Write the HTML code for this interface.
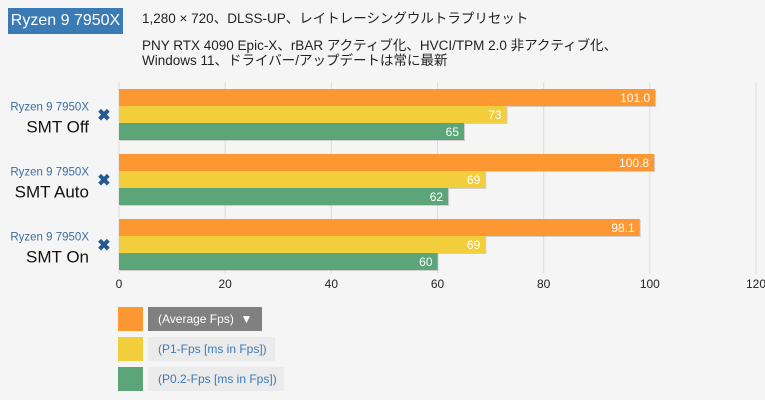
<!DOCTYPE html>
<html><head><meta charset="utf-8"><style>
body{margin:0;width:765px;height:400px;background:#f5f5f5;font-family:"Liberation Sans","Noto Sans CJK JP",sans-serif;overflow:hidden;position:relative}
.abs{position:absolute}
</style></head><body>
<div class="abs" style="left:8px;top:8px;width:115px;height:26px;background:#3b7bb5;color:#fff;font-size:16px;line-height:26px;text-align:center">Ryzen 9 7950X</div>
<div class="abs" style="left:142px;top:7px;font-size:13.5px;color:#222">1,280 × 720、DLSS-UP、レイトレーシングウルトラプリセット</div>
<div class="abs" style="left:142px;top:38px;font-size:13.5px;color:#222;line-height:15px">PNY RTX 4090 Epic-X、rBAR アクティブ化、HVCI/TPM 2.0 非アクティブ化、<br>Windows 11、ドライバー/アップデートは常に最新</div>
<svg class="abs" style="left:0;top:0" width="765" height="400">
<g id="grid"></g><g id="bars"></g><g id="labels"></g>
</svg>
<div class="abs" style="left:118px;top:307px">
 <div style="position:absolute;left:0;top:0;width:200px;height:25px">
  <div style="position:absolute;left:0;top:0;width:25px;height:24px;background:#fd9732"></div>
  <div style="position:absolute;left:30px;top:0;width:114px;height:24px;background:#808080;color:#fff;font-size:12px;line-height:24px;padding-left:10px;box-sizing:border-box">(Average Fps) &nbsp;▼</div>
 </div>
 <div style="position:absolute;left:0;top:30px;width:200px;height:25px">
  <div style="position:absolute;left:0;top:0;width:25px;height:24px;background:#f2cd3c"></div>
  <div style="position:absolute;left:30px;top:0;width:127px;height:24px;background:#ebebeb;color:#3b7bb5;font-size:12px;line-height:24px;padding-left:10px;box-sizing:border-box">(P1-Fps [ms in Fps])</div>
 </div>
 <div style="position:absolute;left:0;top:60px;width:200px;height:25px">
  <div style="position:absolute;left:0;top:0;width:25px;height:24px;background:#5ba578"></div>
  <div style="position:absolute;left:30px;top:0;width:136px;height:24px;background:#ebebeb;color:#3b7bb5;font-size:12px;line-height:24px;padding-left:10px;box-sizing:border-box">(P0.2-Fps [ms in Fps])</div>
 </div>
</div>
<script>
const categories=["SMT Off","SMT Auto","SMT On"];
const avgFps=[101.0,100.8,98.1];
const p1Fps=[73,69,69];
const p02Fps=[65,62,60];
const avgLabels=["101.0","100.8","98.1"];
const ticks=[0,20,40,60,80,100,120];
const NS="http://www.w3.org/2000/svg";
const x0=119,x1=756,xMax=120,top0=82,bottom=270,groupH=65,g0=89,barH=17;
const xs=v=>x0+(x1-x0)*v/xMax;
function mk(t,a,p){const e=document.createElementNS(NS,t);for(const k in a)e.setAttribute(k,a[k]);p.appendChild(e);return e;}
const grid=document.getElementById('grid'),bars=document.getElementById('bars'),labs=document.getElementById('labels');
ticks.forEach(t=>{
 const l=mk('line',{x1:xs(t),x2:xs(t),y1:top0,y2:bottom+4,stroke:'#dcdcdc','stroke-width':1},grid);
 
 
 const tx=mk('text',{x:xs(t),y:288,'text-anchor':'middle','font-size':12,fill:'#222'},labs);
 tx.textContent=t;
 
 
});
const series=[[avgFps,'#fd9732',i=>avgLabels[i]],[p1Fps,'#f2cd3c',i=>String(p1Fps[i])],[p02Fps,'#5ba578',i=>String(p02Fps[i])]];
categories.forEach((c,i)=>{
 const gy=g0+i*groupH;
 series.forEach((s,j)=>{
  const y=gy+j*barH,w=xs(s[0][i])-x0;
  mk('rect',{x:x0+1,y:y+1,width:w,height:barH,fill:'rgba(0,0,0,0.15)'},bars);
  const r=mk('rect',{x:x0,y:y,width:w,height:barH,fill:s[1]},bars);
  
  
  const t=mk('text',{x:x0+w-5,y:y+13,'text-anchor':'end','font-size':12,fill:'#fff'},labs);
  t.textContent=s[2](i);
  
  
 });
 const cy=gy+barH*1.5;
 const a=mk('text',{x:89,y:cy-4,'text-anchor':'end','font-size':11.5,fill:'#3b6ea5'},labs);
 a.textContent='Ryzen 9 7950X';
 
 
 const b=mk('text',{x:89,y:cy+18,'text-anchor':'end','font-size':17,fill:'#111'},labs);
 b.textContent=c;
 
 
 const x=mk('text',{x:104,y:cy+6,'text-anchor':'middle','font-size':16,'font-weight':'bold',fill:'#245a91'},labs);
 x.textContent='✖';
 
 
});
</script>
</body></html>
